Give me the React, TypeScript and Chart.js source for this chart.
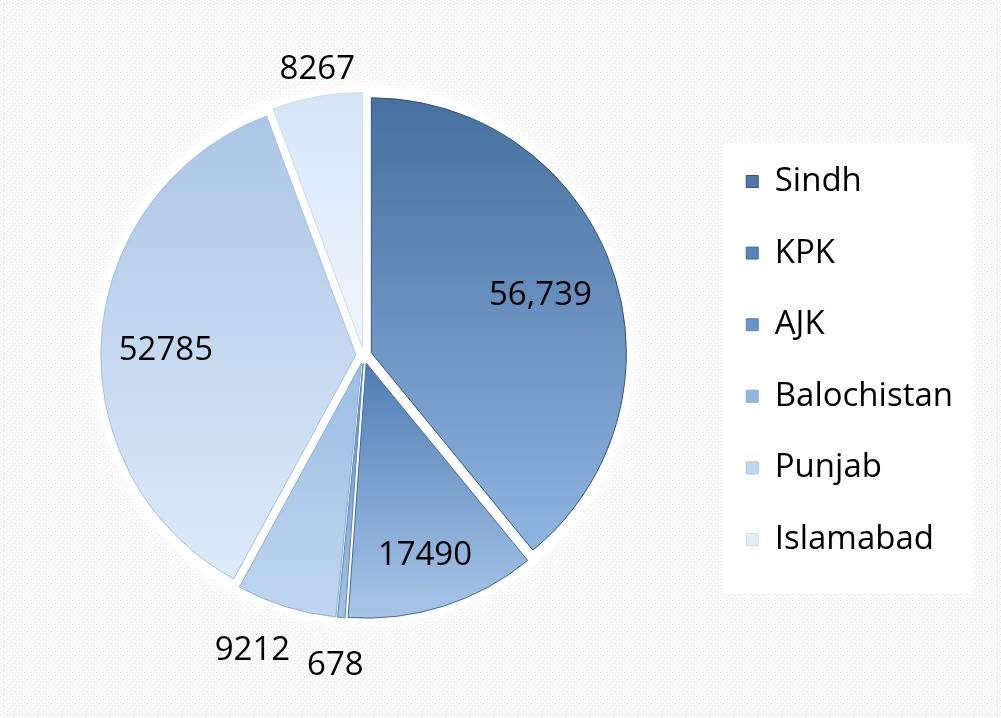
import React, { useEffect, useRef } from "react";
import { Chart, registerables } from "chart.js";

Chart.register(...registerables);

const categories = ["Sindh", "KPK", "AJK", "Balochistan", "Punjab", "Islamabad"];
const values = [56739, 17490, 678, 9212, 52785, 8267];
const valueLabels = ["56,739", "17490", "678", "9212", "52785", "8267"];
const topColors = ["#46709f", "#507db4", "#6b94c8", "#9cbde4", "#abc5e5", "#d5e5f7"];
const bottomColors = ["#8fb5e1", "#a9c6e8", "#a3c2e6", "#c0d6ef", "#ddebf9", "#f0f6fd"];
const outlineColors = ["#2d5585", "#3d6aa0", "#5a86bd", "#8aaedb", "#a3c0e4", "#c8dcf2"];
const legendColors = ["#4e77a7", "#5883b8", "#6a93c8", "#93b5df", "#c2d8f0", "#e2edf8"];
const labelRadius = [0.7, 0.79, 1.19, 1.205, 0.745, 1.106];
const labelAngleShift = [0.95, 0.67, 0.33, 3.6, -2.7, 1.05];

const EXPLODE = 8;
const FONT = "'Open Sans', sans-serif";

const bgPlugin = {
  id: "bgTexture",
  beforeDraw(chart: any) {
    const ctx = chart.ctx;
    const { width, height } = chart;
    ctx.save();
    const pc = document.createElement("canvas");
    pc.width = 6;
    pc.height = 6;
    const p = pc.getContext("2d")!;
    p.fillStyle = "#fbfbfb";
    p.fillRect(0, 0, 6, 6);
    p.fillStyle = "#e4e4e4";
    p.fillRect(0, 0, 1, 1);
    p.fillRect(3, 1, 1, 1);
    p.fillRect(1, 3, 1, 1);
    p.fillRect(4, 4, 1, 1);
    ctx.fillStyle = ctx.createPattern(pc, "repeat");
    ctx.fillRect(0, 0, width, height);
    ctx.strokeStyle = "#dedede";
    ctx.lineWidth = 1;
    ctx.setLineDash([1, 2]);
    ctx.strokeRect(3.5, 3.5, width - 7, height - 7);
    ctx.setLineDash([]);
    const lg = chart.legend;
    if (lg && lg.legendHitBoxes && lg.legendHitBoxes.length) {
      const hb = lg.legendHitBoxes;
      const first = hb[0];
      const last = hb[hb.length - 1];
      const x0 = first.left - 23;
      const y0 = first.top - 22;
      const y1 = last.top + last.height + 37;
      ctx.fillStyle = "#ffffff";
      ctx.fillRect(x0, y0, 250, y1 - y0);
    }
    ctx.restore();
  },
};

const slicePlugin = {
  id: "explodedSlices",
  beforeDatasetsDraw(chart: any) {
    const meta = chart.getDatasetMeta(0);
    const a0 = meta.data[0];
    if (!a0) return;
    const ctx = chart.ctx;
    ctx.save();
    ctx.shadowColor = "rgba(255,255,255,1)";
    ctx.shadowBlur = 18;
    ctx.fillStyle = "#ffffff";
    ctx.beginPath();
    ctx.arc(a0.x, a0.y, a0.outerRadius + EXPLODE + 6, 0, Math.PI * 2);
    ctx.fill();
    ctx.restore();
  },
  beforeDatasetDraw(chart: any, args: any) {
    const meta = args.meta;
    const ctx = chart.ctx;
    meta.data.forEach((arc: any, i: number) => {
      const { x, y, startAngle, endAngle, outerRadius } = arc;
      const mid = (startAngle + endAngle) / 2;
      const dx = Math.cos(mid) * EXPLODE;
      const dy = Math.sin(mid) * EXPLODE;
      let minY = y;
      let maxY = y;
      for (let k = 0; k <= 60; k++) {
        const a = startAngle + ((endAngle - startAngle) * k) / 60;
        const py = y + Math.sin(a) * outerRadius;
        minY = Math.min(minY, py);
        maxY = Math.max(maxY, py);
      }
      const g = ctx.createLinearGradient(0, minY + dy, 0, maxY + dy + 1);
      g.addColorStop(0, topColors[i]);
      g.addColorStop(1, bottomColors[i]);
      ctx.save();
      ctx.beginPath();
      ctx.moveTo(x + dx, y + dy);
      ctx.arc(x + dx, y + dy, outerRadius, startAngle, endAngle);
      ctx.closePath();
      ctx.fillStyle = g;
      ctx.fill();
      ctx.lineWidth = 1;
      ctx.lineJoin = "round";
      ctx.strokeStyle = outlineColors[i];
      ctx.stroke();
      ctx.restore();
    });
    return false;
  },
};

const labelPlugin = {
  id: "valueLabels",
  afterDatasetsDraw(chart: any) {
    const meta = chart.getDatasetMeta(0);
    const ctx = chart.ctx;
    ctx.save();
    ctx.font = `33px ${FONT}`;
    ctx.fillStyle = "#000000";
    ctx.textAlign = "center";
    ctx.textBaseline = "middle";
    meta.data.forEach((arc: any, i: number) => {
      const { x, y, startAngle, endAngle, outerRadius } = arc;
      const mid = (startAngle + endAngle) / 2;
      const vx = x + Math.cos(mid) * EXPLODE;
      const vy = y + Math.sin(mid) * EXPLODE;
      const la = mid + (labelAngleShift[i] * Math.PI) / 180;
      const r = outerRadius * labelRadius[i];
      ctx.fillText(valueLabels[i], vx + Math.cos(la) * r, vy + Math.sin(la) * r);
    });
    ctx.restore();
  },
};

export default function App() {
  const ref = useRef<HTMLCanvasElement | null>(null);
  useEffect(() => {
    document.body.style.margin = "0";
    const canvas = ref.current;
    if (!canvas) return;
    const chart = new Chart(canvas, {
      type: "pie",
      data: {
        labels: categories,
        datasets: [
          {
            data: values,
            backgroundColor: legendColors,
            borderColor: outlineColors,
            borderWidth: 1,
          },
        ],
      },
      options: {
        responsive: false,
        animation: false,
        layout: { padding: { left: 20, right: 38, top: 100, bottom: 107 } },
        plugins: {
          tooltip: { enabled: false },
          legend: {
            position: "right",
            title: { display: true, text: "", font: { size: 8 }, padding: 0.2 },
            labels: {
              font: { family: FONT, size: 33 },
              color: "#000000",
              boxWidth: 12,
              boxHeight: 12,
              padding: 38.6,
              generateLabels: () =>
                categories.map((c, i) => ({
                  text: c,
                  fillStyle: legendColors[i],
                  strokeStyle: outlineColors[i],
                  lineWidth: 1,
                  hidden: false,
                  index: i,
                  fontColor: "#000000",
                })),
            },
          },
        },
      },
      plugins: [bgPlugin, slicePlugin, labelPlugin],
    } as any);
    return () => chart.destroy();
  }, []);
  return (
    <div style={{ width: 1001, height: 718 }}>
      <canvas ref={ref} width={1001} height={718} style={{ display: "block" }} />
    </div>
  );
}
